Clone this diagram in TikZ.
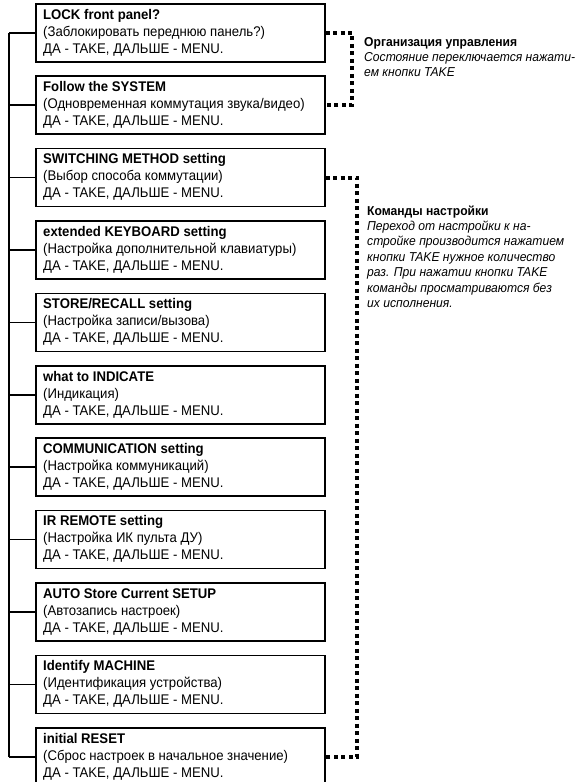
\documentclass[tikz,border=0pt]{standalone}
\usepackage{fontspec}
\setmainfont{Liberation Sans}[FakeStretch=0.94]
\newfontfamily\notefont{Liberation Sans}[FakeStretch=0.94]
\newcommand\boxlines[3]{\vtop{\baselineskip=17pt\hbox{\bfseries #1}\hbox{#2}\hbox{#3}}}
\newcommand\notelines[2]{\vtop{\baselineskip=15.4pt\hbox{\bfseries #1}#2}}
\tikzset{
  menubox/.style={draw=black, line width=1.5pt, rectangle, inner sep=0pt, minimum width=289pt, minimum height=58pt, anchor=north west},
  menutext/.style={inner sep=0pt, anchor=base west, font=\fontsize{14pt}{17pt}\selectfont},
  notetext/.style={inner sep=0pt, anchor=base west, font=\notefont\fontsize{12.9pt}{15.4pt}\selectfont},
  trunk/.style={draw=black, line width=1.5pt},
  dotline/.style={draw=black, line width=4pt, dash pattern=on 4pt off 3.5pt},
}
\begin{document}
\begin{tikzpicture}[x=1pt, y=-1pt]
\useasboundingbox (0,0) rectangle (579,782);
\clip (0,0) rectangle (579,782);
\coordinate (tx) at (9,0);
\coordinate (g1) at (352,0);
\coordinate (g2) at (357,0);
\foreach \i/\a/\b in {
 1/{LOCK front panel?}/{(Заблокировать переднюю панель?)},
 2/{Follow the SYSTEM}/{(Одновременная коммутация звука/видео)},
 3/{SWITCHING METHOD setting}/{(Выбор способа коммутации)},
 4/{extended KEYBOARD setting}/{(Настройка дополнительной клавиатуры)},
 5/{STORE/RECALL setting}/{(Настройка записи/вызова)},
 6/{what to INDICATE}/{(Индикация)},
 7/{COMMUNICATION setting}/{(Настройка коммуникаций)},
 8/{IR REMOTE setting}/{(Настройка ИК пульта ДУ)},
 9/{AUTO Store Current SETUP}/{(Автозапись настроек)},
 10/{Identify MACHINE}/{(Идентификация устройства)},
 11/{initial RESET}/{(Сброс настроек в начальное значение)}}
{
  \node[menubox] (b\i) at (35,{3+72.4*(\i-1)}) {};
  \node[menutext] (t\i) at ([xshift=8pt,yshift=-16pt]b\i.north west) {\boxlines{\a}{\b}{ДА - TAKE, ДАЛЬШЕ - MENU.}};
  \draw[trunk] (b\i.west) -- (b\i.west -| tx);
}
\draw[trunk] (b1.west -| tx) -- (b11.west -| tx);
\draw[dotline] (b1.east) -- (b1.east -| g1) -- (b2.east -| g1) -- (b2.east);
\draw[dotline] (b3.east) -- (b3.east -| g2) -- (b11.east -| g2) -- (b11.east);
\node[notetext] (n1) at (364,46) {\notelines{Организация управления}{\itshape\hbox{Состояние переключается нажати-}\hbox{ем кнопки TAKE}}};
\node[notetext] (n2) at (367,215) {\notelines{Команды настройки}{\itshape\hbox{Переход от настройки к на-}\hbox{стройке производится нажатием}\hbox{кнопки TAKE нужное количество}\hbox{раз. При нажатии кнопки TAKE}\hbox{команды просматриваются без}\hbox{их исполнения.}}};
\end{tikzpicture}
\end{document}
